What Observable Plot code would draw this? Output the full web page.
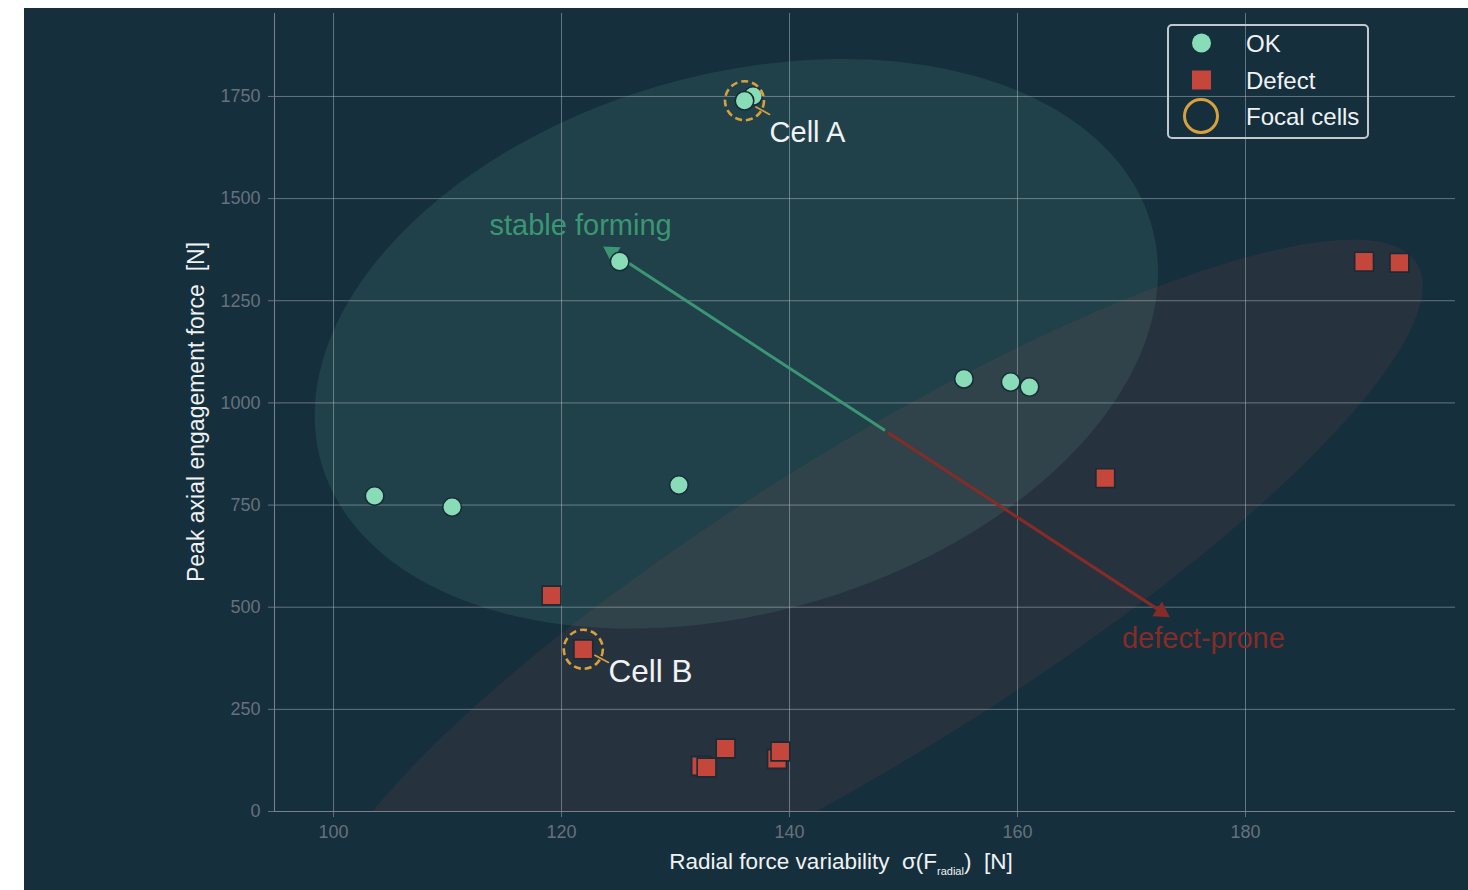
<!DOCTYPE html>
<html>
<head>
<meta charset="utf-8">
<script src="https://cdn.jsdelivr.net/npm/d3@7"></script>
<script src="https://cdn.jsdelivr.net/npm/@observablehq/plot@0.6"></script>
<style>
  html, body { margin: 0; padding: 0; background: #ffffff; }
  #wrap { position: relative; width: 1468px; height: 890px; overflow: hidden; }
  #chart { position: absolute; left: 24px; top: 8px; }
  #legend { position: absolute; left: 1167px; top: 24px; width: 198px; height: 111px;
            border: 2px solid #c3c8cd; border-radius: 5px; }
  text { font-family: "Liberation Sans", Arial, Helvetica, sans-serif; }
</style>
</head>
<body>
<div id="wrap"><div id="chart"></div><div id="legend"></div></div>
<script>
// ---------------- data ----------------
const okX  = [103.6, 110.4, 125.1, 130.3, 136.8, 136.05, 155.3, 159.4, 161.05];
const okY  = [772, 745, 1346, 799, 1751, 1739.5, 1059, 1051, 1039];
const defX = [119.12, 121.91, 134.39, 132.24, 132.72, 138.9, 139.2, 167.7, 190.4, 193.5];
const defY = [528.7, 397, 154.2, 111.4, 107.7, 128.5, 146.9, 816, 1345.6, 1343];

const focalLabels = ["Cell A", "Cell B"];
const focalX = [136.05, 121.91];
const focalY = [1739.5, 397];
const leaderEndX = [138.25, 124.12];
const leaderEndY = [1706, 364.7];
const focalLabelX = [138.25, 124.12];
const focalLabelY = [1662, 342.7];

const arrowLabels = ["stable forming", "defect-prone"];
const arrowStartX = [148.5, 148.5];
const arrowStartY = [930, 930];
const arrowEndX = [123.65, 173.36];
const arrowEndY = [1383, 475.6];
const arrowLabelX = [121.67, 176.3];
const arrowLabelY = [1434, 423.4];

const xTicks = [100, 120, 140, 160, 180];
const yTicks = [0, 250, 500, 750, 1000, 1250, 1500, 1750];
const legendLabels = ["OK", "Defect", "Focal cells"];
const confLevel = 0.8;

// ---------------- layout ----------------
const W = 1444, H = 882;
const mL = 250, mR = 13, mT = 5, mB = 79;
const xDomain = [94.82, 198.42];
const yDomain = [0, 1953];
const FONT = '"Liberation Sans", Arial, Helvetica, sans-serif';
const C = {
  bg: "#152f3d", ok: "#88ddb8", def: "#c5463a", defFill: "#c44a4e", focal: "#d9a13b",
  green: "#3b9673", red: "#852c27", grid: "#c5ccd3", axis: "#7a818a", tick: "#67717c", text: "#f0f2f4"
};

// covariance (confidence) ellipse derived from a group's points
function ellipse(xs, ys, level, n = 240) {
  const mx = d3.mean(xs), my = d3.mean(ys);
  const sxx = d3.variance(xs), syy = d3.variance(ys);
  const sxy = d3.sum(xs, (x, i) => (x - mx) * (ys[i] - my)) / (xs.length - 1);
  const a = Math.sqrt(sxx), b = sxy / a, c = Math.sqrt(syy - b * b);
  const k = Math.sqrt(-2 * Math.log(1 - level));
  return d3.range(n).map(i => {
    const t = 2 * Math.PI * i / n;
    return {x: mx + k * a * Math.cos(t), y: my + k * (b * Math.cos(t) + c * Math.sin(t))};
  });
}
const okEll = ellipse(okX, okY, confLevel);
const defEll = ellipse(defX, defY, confLevel);

const okPts = okX.map((x, i) => ({x, y: okY[i]}));
const defPts = defX.map((x, i) => ({x, y: defY[i]}));
const focalSizes = [29, 31.5];
const focal = focalLabels.map((label, i) => ({label, x: focalX[i], y: focalY[i],
  lx: leaderEndX[i], ly: leaderEndY[i], tx: focalLabelX[i], ty: focalLabelY[i]}));

// arrowheads oriented in screen space
const sx = d3.scaleLinear(xDomain, [mL, W - mR]);
const sy = d3.scaleLinear(yDomain, [H - mB, mT]);
const headR = 6.5;
const headTip = 2 * Math.sqrt(Math.PI * headR * headR / (3 * Math.sqrt(3)));
const arrows = arrowLabels.map((label, i) => {
  const px = sx(arrowEndX[i]) - sx(arrowStartX[i]);
  const py = sy(arrowEndY[i]) - sy(arrowStartY[i]);
  const len = Math.hypot(px, py), ux = px / len, uy = py / len;
  return {label, x1: arrowStartX[i], y1: arrowStartY[i], x2: arrowEndX[i], y2: arrowEndY[i],
    lx: arrowLabelX[i], ly: arrowLabelY[i], color: i === 0 ? C.green : C.red,
    rot: Math.atan2(ux, -uy) * 180 / Math.PI, dx: -ux * headTip, dy: -uy * headTip};
});

const marks = [
  Plot.line(defEll, {x: "x", y: "y", curve: "linear-closed", fill: C.defFill, fillOpacity: 0.1, stroke: "none", clip: true}),
  Plot.line(okEll, {x: "x", y: "y", curve: "linear-closed", fill: C.ok, fillOpacity: 0.1, stroke: "none", clip: true}),
  Plot.ruleX(xTicks, {stroke: C.grid, strokeOpacity: 0.45}),
  Plot.ruleY(yTicks, {stroke: C.grid, strokeOpacity: 0.45}),
  Plot.ruleX([xDomain[0]], {stroke: C.axis}),
  Plot.ruleY([yDomain[0]], {stroke: C.axis}),
  Plot.arrow(arrows, {x1: "x1", y1: "y1", x2: "x2", y2: "y2", stroke: d => d.color, strokeWidth: 3,
    headLength: 0, insetStart: 3, insetEnd: headTip}),
  Plot.text(arrows, {x: "lx", y: "ly", text: "label", fill: d => d.color, fontSize: 29, fontFamily: FONT})
];
arrows.forEach(a => {
  marks.push(Plot.dot([a], {x: "x2", y: "y2", symbol: "triangle", r: headR, fill: a.color, stroke: "none",
    rotate: a.rot, dx: a.dx, dy: a.dy}));
});
marks.push(
  Plot.dot(okPts, {x: "x", y: "y", r: 9.3, fill: C.ok, stroke: "#1a2b36", strokeWidth: 1.6}),
  Plot.dot(defPts, {x: "x", y: "y", symbol: "square", r: 10.6, fill: C.def, stroke: "#1a2b36", strokeWidth: 1.6}),
  Plot.arrow(focal, {x1: "x", y1: "y", x2: "lx", y2: "ly", stroke: C.focal, strokeWidth: 1.6, headLength: 0, insetStart: 13}),
  Plot.dot(focal, {x: "x", y: "y", r: 19.5, fill: "none", stroke: C.focal, strokeWidth: 2.6, strokeDasharray: "7,4"})
);
focal.forEach((f, i) => {
  marks.push(Plot.text([f], {x: "tx", y: "ty", text: "label", fill: C.text, fontSize: focalSizes[i],
    textAnchor: "start", fontFamily: FONT}));
});

const plot = Plot.plot({
  width: W, height: H,
  marginLeft: mL, marginRight: mR, marginTop: mT, marginBottom: mB,
  x: {domain: xDomain, ticks: xTicks, tickSize: 6, tickPadding: 8, tickFormat: d3.format("d"), label: null},
  y: {domain: yDomain, ticks: yTicks, tickSize: 6, tickPadding: 8, tickFormat: d3.format("d"), label: null},
  style: {background: C.bg, color: C.tick, fontSize: "18px", fontFamily: FONT, overflow: "visible"},
  marks
});
document.getElementById("chart").appendChild(plot);

// axis titles
const svg = d3.select(plot);
const xt = svg.append("text").attr("x", 817).attr("y", 861)
  .attr("text-anchor", "middle").attr("fill", C.text).attr("font-size", 22.5)
  .attr("font-family", FONT).style("white-space", "pre");
xt.append("tspan").text("Radial force variability  \u03c3(F");
xt.append("tspan").attr("font-size", 11).attr("dy", 6).text("radial");
xt.append("tspan").attr("dy", -6).text(")  [N]");
svg.append("text").attr("transform", "translate(174,404) rotate(-90)")
  .attr("text-anchor", "middle").attr("dominant-baseline", "middle")
  .attr("fill", C.text).attr("font-size", 23).attr("font-family", FONT)
  .style("white-space", "pre").text("Peak axial engagement force  [N]");

// legend
const lg = d3.select("#legend").append("svg").attr("width", 198).attr("height", 111);
const rows = [17, 54, 90];
lg.append("circle").attr("cx", 32.5).attr("cy", rows[0]).attr("r", 9.5).attr("fill", C.ok);
lg.append("rect").attr("x", 23).attr("y", rows[1] - 9.5).attr("width", 19).attr("height", 19).attr("fill", C.def);
lg.append("circle").attr("cx", 32).attr("cy", rows[2]).attr("r", 16.5).attr("fill", "none")
  .attr("stroke", C.focal).attr("stroke-width", 3);
legendLabels.forEach((t, i) => {
  lg.append("text").attr("x", 77).attr("y", rows[i]).attr("dominant-baseline", "central")
    .attr("fill", C.text).attr("font-size", 24).attr("font-family", FONT).text(t);
});
</script>
</body>
</html>
